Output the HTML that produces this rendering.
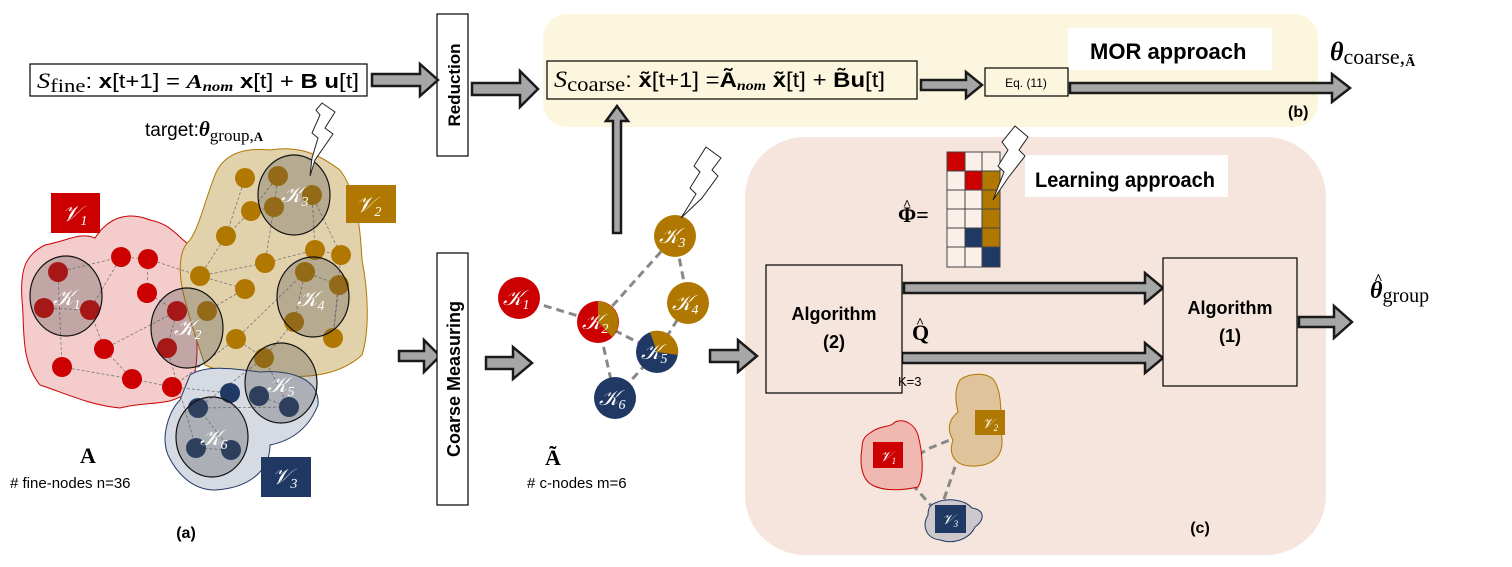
<!DOCTYPE html>
<html><head><meta charset="utf-8"><style>
html,body{margin:0;padding:0;background:#fff;width:1512px;height:567px;overflow:hidden}
svg{display:block}
.s{font-family:"Liberation Sans",sans-serif}
.r{font-family:"Liberation Serif",serif}
.k{font-family:"Liberation Serif",serif;font-style:italic;fill:#fff}
</style></head><body>
<svg width="1512" height="567" viewBox="0 0 1512 567" xmlns="http://www.w3.org/2000/svg">
<rect x="543" y="14" width="775" height="113" rx="24" fill="#fdf6de"/>
<rect x="745" y="137" width="581" height="418" rx="60" fill="#f5e5dc"/>

<rect x="1068" y="28" width="204" height="42" fill="#fff"/>
<text x="1090" y="59" class="s" font-size="22" font-weight="bold">MOR approach</text>
<text x="1288" y="117" class="s" font-size="16" font-weight="bold">(b)</text>
<text x="1330" y="60" class="r" font-size="26"><tspan font-weight="bold" font-style="italic">θ</tspan><tspan font-size="22" dy="4">coarse,</tspan><tspan font-size="14" font-weight="bold" dy="2">Ã</tspan></text>

<rect x="30" y="64" width="337" height="32" fill="#fff" stroke="#000" stroke-width="1.2"/>
<text x="37" y="88" class="r" font-size="22" textLength="322" lengthAdjust="spacingAndGlyphs"><tspan font-style="italic">S</tspan><tspan font-size="19" dy="4">fine</tspan><tspan font-size="20" dy="-4" font-family="Liberation Sans">: <tspan font-weight="bold">x</tspan>[t+1] = <tspan font-weight="bold" font-style="italic" font-family="Liberation Serif">A<tspan font-size="14" dy="3">nom</tspan></tspan><tspan dy="-3"> <tspan font-weight="bold">x</tspan>[t] + <tspan font-weight="bold">B u</tspan>[t]</tspan></tspan></text>

<rect x="437" y="14" width="31" height="142" fill="#fff" stroke="#000" stroke-width="1.2"/>
<text transform="translate(460,85) rotate(-90)" text-anchor="middle" class="s" font-size="17" font-weight="bold">Reduction</text>

<rect x="547" y="61" width="370" height="38" fill="#fdf6de" stroke="#000" stroke-width="1.2"/>
<text x="554" y="87" class="r" font-size="23" textLength="331" lengthAdjust="spacingAndGlyphs"><tspan font-style="italic">S</tspan><tspan font-size="20" dy="4">coarse</tspan><tspan font-size="21" dy="-4" font-family="Liberation Sans">: <tspan font-weight="bold">x̃</tspan>[t+1] =<tspan font-weight="bold">Ã</tspan><tspan font-style="italic" font-weight="bold" font-size="14" dy="3" font-family="Liberation Serif">nom</tspan><tspan dy="-3"> <tspan font-weight="bold">x̃</tspan>[t] + <tspan font-weight="bold">B̃u</tspan>[t]</tspan></tspan></text>

<rect x="985" y="68" width="83" height="28" fill="#fdf6de" stroke="#000" stroke-width="1.2"/>
<text x="1026" y="87" text-anchor="middle" class="s" font-size="12">Eq. (11)</text>

<g fill="#a6a6a6" stroke="#1a1a1a" stroke-width="2.5" stroke-linejoin="miter">
<polygon points="372,74 420,74 420,64 438,80 420,96 420,86 372,86"/>
<polygon points="472,83 520,83 520,71 538,89 520,107 520,95 472,95"/>
<polygon points="921,80 966,80 966,72 982,85 966,98 966,90 921,90"/>
<polygon points="1070,83 1332,83 1332,74 1350,88 1332,102 1332,93 1070,93"/>
<polygon points="613,233 613,121 606,121 617,106 628,121 621,121 621,233"/>
<polygon points="399,351 424,351 424,340 440,356 424,372 424,361 399,361"/>
<polygon points="486,357 513,357 513,347 532,363 513,379 513,369 486,369"/>
<polygon points="710,350 738,350 738,340 757,356 738,372 738,362 710,362"/>
<polygon points="904,283 1145,283 1145,273 1163,288 1145,303 1145,293 904,293"/>
<polygon points="902,353 1145,353 1145,343 1163,358 1145,373 1145,363 902,363"/>
<polygon points="1299,317 1334,317 1334,306 1352,322 1334,338 1334,327 1299,327"/>
</g>

<rect x="437" y="253" width="31" height="252" fill="#fff" stroke="#000" stroke-width="1.2"/>
<text transform="translate(460,379) rotate(-90)" text-anchor="middle" class="s" font-size="18" font-weight="bold">Coarse Measuring</text>

<text x="145" y="136" class="s" font-size="19">target:<tspan class="r" font-weight="bold" font-style="italic" font-size="21">θ</tspan><tspan class="r" font-size="17" dy="5">group,</tspan><tspan class="r" font-size="13" font-weight="bold" dy="0">A</tspan></text>

<path d="M45,245 C70,240 80,232 95,238 C110,215 130,212 150,220 C175,225 178,240 195,248 L195,300 C197,340 200,365 190,390 C170,408 150,400 120,408 C90,405 70,395 40,385 C20,360 25,330 22,300 C20,270 25,255 45,245 Z" fill="#f4cccc" stroke="#cc0000" stroke-width="1"/>
<path d="M215,175 C225,150 250,148 270,150 C300,145 320,155 340,170 C355,190 360,220 362,260 C368,290 370,330 362,355 C340,375 310,378 280,376 C250,372 225,375 205,365 C198,345 190,320 185,300 C178,275 178,250 190,240 C200,225 205,200 215,175 Z" fill="#e2d2ac" stroke="#b07800" stroke-width="1"/>
<path d="M190,375 C205,365 230,368 260,372 C290,370 320,378 318,405 C310,425 295,440 270,445 C270,470 250,488 215,490 C190,490 175,470 168,455 C160,435 170,410 180,400 Z" fill="#d5dae3" stroke="#1f3864" stroke-width="1"/>

<g stroke="#777" stroke-width="0.8" stroke-dasharray="3,2" fill="none">
<path d="M58,272 121,257 148,259 147,293 177,311 167,348 M44,308 90,310 121,257 M90,310 104,349 132,379 172,387 M62,367 132,379 M58,272 62,367 M148,259 200,276 245,289 M167,348 196,448 M172,387 230,393 M104,349 177,311 M200,276 226,236 251,211 274,207 278,176 M200,276 265,263 315,250 341,255 M265,263 274,207 M312,195 315,250 M305,272 339,285 333,338 M305,272 294,322 264,358 M245,289 207,311 M236,339 305,272 M236,339 264,358 289,407 M341,255 333,338 M264,358 198,408 231,450 196,448 M259,396 289,407 198,408 M236,339 172,387 M245,178 226,236 M312,195 341,255 M278,176 251,211"/>
</g>
<g fill="#cc0000">
<circle cx="58" cy="272" r="10"/><circle cx="44" cy="308" r="10"/><circle cx="90" cy="310" r="10"/><circle cx="121" cy="257" r="10"/><circle cx="148" cy="259" r="10"/><circle cx="147" cy="293" r="10"/><circle cx="177" cy="311" r="10"/><circle cx="167" cy="348" r="10"/><circle cx="104" cy="349" r="10"/><circle cx="62" cy="367" r="10"/><circle cx="132" cy="379" r="10"/><circle cx="172" cy="387" r="10"/>
</g>
<g fill="#b07800">
<circle cx="245" cy="178" r="10"/><circle cx="278" cy="176" r="10"/><circle cx="312" cy="195" r="10"/><circle cx="274" cy="207" r="10"/><circle cx="251" cy="211" r="10"/><circle cx="226" cy="236" r="10"/><circle cx="315" cy="250" r="10"/><circle cx="341" cy="255" r="10"/><circle cx="265" cy="263" r="10"/><circle cx="200" cy="276" r="10"/><circle cx="245" cy="289" r="10"/><circle cx="305" cy="272" r="10"/><circle cx="339" cy="285" r="10"/><circle cx="207" cy="311" r="10"/><circle cx="294" cy="322" r="10"/><circle cx="333" cy="338" r="10"/><circle cx="236" cy="339" r="10"/><circle cx="264" cy="358" r="10"/>
</g>
<g fill="#1f3864">
<circle cx="230" cy="393" r="10"/><circle cx="259" cy="396" r="10"/><circle cx="289" cy="407" r="10"/><circle cx="198" cy="408" r="10"/><circle cx="196" cy="448" r="10"/><circle cx="231" cy="450" r="10"/>
</g>
<g fill="rgba(80,80,80,0.3)" stroke="#111" stroke-width="1.2">
<ellipse cx="66" cy="296" rx="36" ry="40"/>
<ellipse cx="187" cy="328" rx="36" ry="40"/>
<ellipse cx="294" cy="195" rx="36" ry="40"/>
<ellipse cx="313" cy="297" rx="36" ry="40"/>
<ellipse cx="281" cy="383" rx="36" ry="40"/>
<ellipse cx="212" cy="437" rx="36" ry="40"/>
</g>
<g class="k" font-size="22">
<text x="53" y="305">𝒦<tspan font-size="14" dy="4">1</tspan></text>
<text x="174" y="335">𝒦<tspan font-size="14" dy="4">2</tspan></text>
<text x="281" y="202">𝒦<tspan font-size="14" dy="4">3</tspan></text>
<text x="297" y="306">𝒦<tspan font-size="14" dy="4">4</tspan></text>
<text x="267" y="392">𝒦<tspan font-size="14" dy="4">5</tspan></text>
<text x="200" y="445">𝒦<tspan font-size="14" dy="4">6</tspan></text>
</g>
<rect x="51" y="193" width="49" height="40" fill="#cc0000"/><text x="62" y="221" class="k" font-size="22">𝒱<tspan font-size="14" dy="4">1</tspan></text>
<rect x="346" y="185" width="50" height="38" fill="#b07800"/><text x="356" y="212" class="k" font-size="22">𝒱<tspan font-size="14" dy="4">2</tspan></text>
<rect x="261" y="457" width="50" height="40" fill="#1f3864"/><text x="272" y="484" class="k" font-size="22">𝒱<tspan font-size="14" dy="4">3</tspan></text>

<text x="88" y="463" text-anchor="middle" class="r" font-size="22" font-weight="bold">A</text>
<text x="10" y="488" class="s" font-size="15"># fine-nodes  n=36</text>
<text x="186" y="538" text-anchor="middle" class="s" font-size="16" font-weight="bold">(a)</text>

<g stroke="#888" stroke-width="3" stroke-dasharray="8,5" fill="none">
<path d="M519,298 598,322 675,236 688,303 657,352 598,322 615,398 657,352"/>
</g>
<circle cx="519" cy="298" r="21" fill="#cc0000"/>
<circle cx="598" cy="322" r="21" fill="#cc0000"/>
<path d="M598,322 L598,301 A21,21 0 0 1 612,337 Z" fill="#b07800"/>
<circle cx="675" cy="236" r="21" fill="#b07800"/>
<circle cx="688" cy="303" r="21" fill="#b07800"/>
<circle cx="657" cy="352" r="21" fill="#1f3864"/>
<path d="M657,352 L650,332 A21,21 0 0 1 678,355 Z" fill="#b07800"/>
<circle cx="615" cy="398" r="21" fill="#1f3864"/>
<g class="k" font-size="21">
<text x="503" y="305">𝒦<tspan font-size="14" dy="4">1</tspan></text>
<text x="582" y="329">𝒦<tspan font-size="14" dy="4">2</tspan></text>
<text x="659" y="243">𝒦<tspan font-size="14" dy="4">3</tspan></text>
<text x="672" y="310">𝒦<tspan font-size="14" dy="4">4</tspan></text>
<text x="641" y="359">𝒦<tspan font-size="14" dy="4">5</tspan></text>
<text x="599" y="405">𝒦<tspan font-size="14" dy="4">6</tspan></text>
</g>
<text x="553" y="465" text-anchor="middle" class="r" font-size="22" font-weight="bold">Ã</text>
<text x="527" y="488" class="s" font-size="15"># c-nodes  m=6</text>

<g fill="#fff" stroke="#222" stroke-width="1">
<polygon points="322,103 335,112 325,128 333,134 315,160 310,176 312,158 318,138 312,133 320,115 316,110"/>
<polygon points="706,147 721,158 712,170 718,176 702,198 681,218 696,194 690,188 700,172 694,166"/>
</g>

<rect x="1025" y="155" width="203" height="42" fill="#fff"/>
<text x="1035" y="187" class="s" font-size="21" font-weight="bold" textLength="180" lengthAdjust="spacingAndGlyphs">Learning approach</text>
<text x="898" y="222" class="r" font-size="22" font-weight="bold">Φ=</text>
<text x="903" y="209" class="r" font-size="14" font-weight="bold">^</text>
<g stroke="#444" stroke-width="1">
<rect x="947" y="152" width="53" height="115" fill="#fbefe9"/>
<rect x="947" y="152" width="18" height="19" fill="#cc0000"/>
<rect x="965" y="171" width="17" height="19" fill="#cc0000"/>
<rect x="982" y="171" width="18" height="76" fill="#b07800"/>
<rect x="965" y="228" width="17" height="19" fill="#1f3864"/>
<rect x="982" y="247" width="18" height="20" fill="#1f3864"/>
<path d="M965,152V267M982,152V267M947,171H1000M947,190H1000M947,209H1000M947,228H1000M947,247H1000" fill="none"/>
</g>
<polygon points="1015,126 1028,137 1019,150 1025,156 1008,178 993,200 1004,172 998,166 1008,150 1002,142" fill="#fff" stroke="#222" stroke-width="1"/>

<rect x="766" y="265" width="136" height="128" fill="#f5e5dc" stroke="#000" stroke-width="1.2"/>
<text x="834" y="320" text-anchor="middle" class="s" font-size="18" font-weight="bold">Algorithm</text>
<text x="834" y="348" text-anchor="middle" class="s" font-size="18" font-weight="bold">(2)</text>
<rect x="1163" y="258" width="134" height="128" fill="#f5e5dc" stroke="#000" stroke-width="1.2"/>
<text x="1230" y="314" text-anchor="middle" class="s" font-size="18" font-weight="bold">Algorithm</text>
<text x="1230" y="342" text-anchor="middle" class="s" font-size="18" font-weight="bold">(1)</text>
<text x="912" y="340" class="r" font-size="22" font-weight="bold">Q</text>
<text x="916" y="327" class="r" font-size="14" font-weight="bold">^</text>
<text x="898" y="386" class="s" font-size="13">K=3</text>
<text x="1370" y="298" class="r" font-size="24"><tspan font-weight="bold" font-style="italic">θ</tspan><tspan font-size="20" dy="4">group</tspan></text>
<text x="1374" y="284" class="r" font-size="15" font-weight="bold">^</text>

<g stroke="#888" stroke-width="3" stroke-dasharray="8,5" fill="none">
<path d="M918,455 L930,448 950,440 M912,484 L935,510 M955,467 L942,505"/>
</g>
<path d="M870,433 C880,425 890,428 895,422 C905,418 915,425 918,435 C922,450 925,475 918,487 C905,490 885,492 872,485 C860,478 860,460 862,448 C862,440 865,436 870,433 Z" fill="#efb8b0" stroke="#cc0000" stroke-width="1"/>
<path d="M960,380 C970,372 990,372 995,382 C1003,395 1000,420 1002,440 C1003,458 990,467 970,466 C955,465 948,455 953,440 C947,430 948,420 958,412 C955,400 955,388 960,380 Z" fill="#dfc39a" stroke="#b07800" stroke-width="1"/>
<path d="M935,503 C948,497 965,500 972,508 C985,510 985,520 975,527 C970,538 955,545 940,540 C925,538 922,525 928,515 C928,508 930,505 935,503 Z" fill="#cdc8cc" stroke="#1f3864" stroke-width="1"/>
<rect x="873" y="442" width="30" height="26" fill="#cc0000"/><text x="880" y="461" class="k" font-size="14">𝒱<tspan font-size="9" dy="3">1</tspan></text>
<rect x="975" y="410" width="30" height="25" fill="#b07800"/><text x="982" y="428" class="k" font-size="14">𝒱<tspan font-size="9" dy="3">2</tspan></text>
<rect x="935" y="505" width="31" height="28" fill="#1f3864"/><text x="942" y="524" class="k" font-size="14">𝒱<tspan font-size="9" dy="3">3</tspan></text>
<text x="1200" y="533" text-anchor="middle" class="s" font-size="16" font-weight="bold">(c)</text>
</svg>
</body></html>
